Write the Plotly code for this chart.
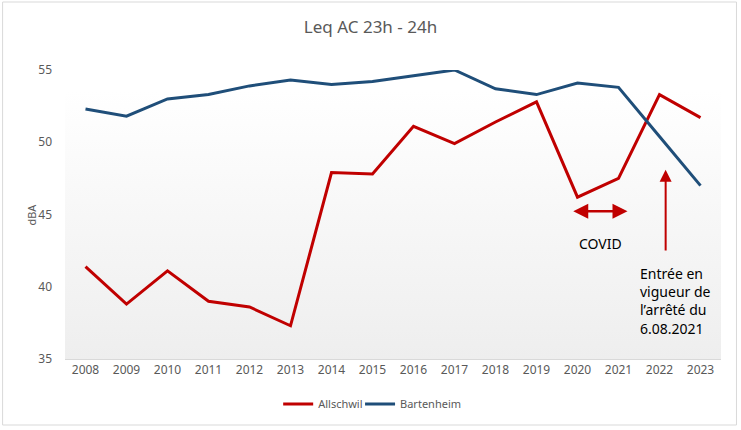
import plotly.graph_objects as go

# -- Data --------------------------------------------------------------------

years = list(range(2008, 2024))
allschwil = [41.4, 38.8, 41.1, 39.0, 38.6, 37.3, 47.9, 47.8, 51.1, 49.9,
             51.4, 52.8, 46.2, 47.5, 53.3, 51.7]
bartenheim = [52.3, 51.8, 53.0, 53.3, 53.9, 54.3, 54.0, 54.2, 54.6, 55.0,
              53.7, 53.3, 54.1, 53.8, 50.4, 47.0]

RED = "#C00000"
BLUE = "#1F4E79"
GREY = "#595959"
FONT = "Noto Sans"

# plot area in pixels (741x430 canvas)
L, R, T, B = 64.5, 19.5, 70, 71
W, H = 741, 430
pw, ph = W - L - R, H - T - B


def px_x(p):
    return (p - L) / pw


def px_y(p):
    return (H - B - p) / ph


fig = go.Figure()

# soft vertical gradient behind the plot area (Excel style)
fig.add_trace(go.Scatter(
    x=[2007.5, 2023.5, 2023.5, 2007.5, 2007.5],
    y=[35, 35, 53.6, 53.6, 35],
    mode="lines", line=dict(width=0), fill="toself",
    fillgradient=dict(type="vertical",
                      colorscale=[[0, "#eeeeee"], [1, "#ffffff"]]),
    hoverinfo="skip", showlegend=False,
))

fig.add_trace(go.Scatter(x=years, y=allschwil, name="Allschwil", mode="lines",
                         line=dict(color=RED, width=3), cliponaxis=False,
                         legend="legend"))
fig.add_trace(go.Scatter(x=years, y=bartenheim, name="Bartenheim", mode="lines",
                         line=dict(color=BLUE, width=3), cliponaxis=False,
                         legend="legend2"))

# -- Annotations -------------------------------------------------------------

fig.add_annotation(x=2021.22, y=45.23, ax=2019.86, ay=45.23,
                   xref="x", yref="y", axref="x", ayref="y",
                   text="", showarrow=True, arrowhead=2, arrowside="end+start",
                   arrowsize=1.2, arrowwidth=2.5, arrowcolor=RED)
fig.add_annotation(x=2020.55, y=43.0, xref="x", yref="y", text="COVID",
                   showarrow=False, font=dict(family=FONT, size=14, color="black"))
fig.add_annotation(x=2022.15, y=48.1, ax=2022.15, ay=42.4,
                   xref="x", yref="y", axref="x", ayref="y",
                   text="", showarrow=True, arrowhead=2,
                   arrowsize=1.2, arrowwidth=2, arrowcolor=RED)
fig.add_annotation(x=px_x(638), y=px_y(262), xref="paper", yref="paper",
                   xanchor="left", yanchor="top", align="left",
                   text="Entrée en<br>vigueur de<br>l’arrêté du<br>6.08.2021",
                   showarrow=False,
                   font=dict(family=FONT, size=14, color="black"))
fig.add_annotation(x=px_x(30), y=px_y(215), xref="paper", yref="paper",
                   xanchor="center", yanchor="middle",
                   text="dBA", textangle=-90, showarrow=False,
                   font=dict(family=FONT, size=11, color=GREY))

# outer chart border
fig.add_shape(type="rect", xref="paper", yref="paper",
              x0=px_x(2), x1=px_x(737), y0=px_y(425), y1=px_y(2),
              line=dict(color="#d9d9d9", width=1), layer="below")

leg = dict(orientation="h", xanchor="left", y=px_y(404), yanchor="middle",
           font=dict(size=11, color=GREY), itemwidth=30,
           bgcolor="rgba(0,0,0,0)")

fig.update_layout(
    width=W, height=H,
    margin=dict(l=L, r=R, t=T, b=B, autoexpand=False),
    paper_bgcolor="white", plot_bgcolor="white",
    font=dict(family=FONT, color=GREY),
    title=dict(text="Leq AC 23h - 24h", x=0.5, xref="container", xanchor="center",
               y=1 - 27 / H, yanchor="middle", font=dict(size=17, color=GREY)),
    legend=dict(leg, x=px_x(278)),
    legend2=dict(leg, x=px_x(360)),
    showlegend=True,
)
fig.update_xaxes(range=[2007.5, 2023.5], tickvals=years, showgrid=False,
                 zeroline=False, showline=True, linecolor="#d9d9d9",
                 tickfont=dict(size=12, color=GREY), ticks="", automargin=False)
fig.update_yaxes(range=[35, 55], tickvals=[35, 40, 45, 50, 55], showgrid=False,
                 zeroline=False, ticks="", ticklabelstandoff=12,
                 tickfont=dict(size=12, color=GREY), automargin=False)

# the page body has a default 8px margin; drop it so the chart fills the window
fig.write_html("out.html", config={"displayModeBar": False},
               post_script="document.body.style.margin='0';")
